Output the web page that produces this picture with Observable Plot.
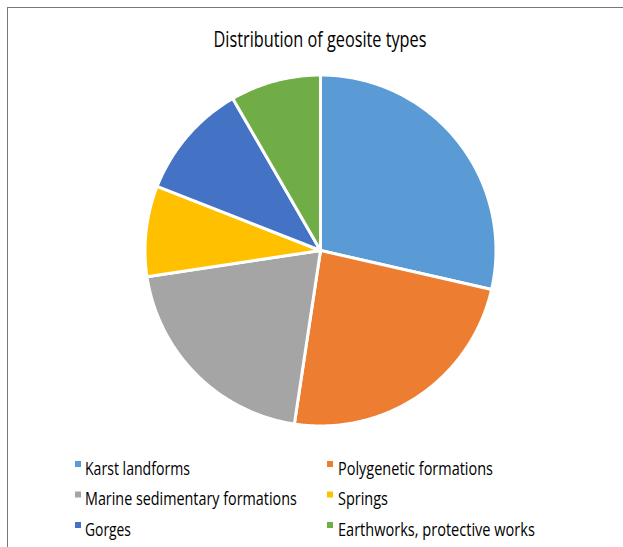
<!DOCTYPE html>
<html>
<head>
<meta charset="utf-8">
<script src="https://cdn.jsdelivr.net/npm/d3@7"></script>
<script src="https://cdn.jsdelivr.net/npm/@observablehq/plot@0.6"></script>
<style>
  html, body { margin: 0; padding: 0; background: #fff; }
  body { width: 623px; height: 547px; position: relative; overflow: hidden; }
  #frame { position: absolute; left: 7px; top: 7px; width: 800px; height: 800px;
           border: 1.5px solid #777; box-sizing: border-box; }
  #chart { position: absolute; left: 0; top: 0; }
  #overlay { position: absolute; left: 0; top: 0; }
  #overlay text { font-family: "Open Sans", "Noto Sans", sans-serif; fill: #000; }
</style>
</head>
<body>
<div id="frame"></div>
<div id="chart"></div>
<svg id="overlay" width="623" height="547"></svg>
<script>
const title = "Distribution of geosite types";
const types = ["Karst landforms", "Polygenetic formations", "Marine sedimentary formations", "Springs", "Gorges", "Earthworks, protective works"];
const counts = [24, 20, 17, 7, 9, 7];
const colors = ["#5B9BD5", "#ED7D31", "#A5A5A5", "#FFC000", "#4472C4", "#70AD47"];

const data = types.map((t, i) => ({type: t, value: counts[i]}));
const arcs = d3.pie().sort(null).value(d => d.value)(data);

// polygon outline of each slice (unit circle, angle clockwise from 12 o'clock)
const pts = [];
arcs.forEach(a => {
  const t = a.data.type;
  pts.push({type: t, x: 0, y: 0});
  const n = Math.max(4, Math.ceil((a.endAngle - a.startAngle) / 0.01));
  for (let k = 0; k <= n; k++) {
    const ang = a.startAngle + (a.endAngle - a.startAngle) * k / n;
    pts.push({type: t, x: Math.sin(ang), y: Math.cos(ang)});
  }
});

const chart = Plot.plot({
  width: 623,
  height: 547,
  marginLeft: 144.5,
  marginRight: 127.5,
  marginTop: 74.5,
  marginBottom: 121.5,
  x: {domain: [-1, 1], axis: null},
  y: {domain: [-1, 1], axis: null},
  color: {domain: types, range: colors},
  style: {background: "transparent"},
  marks: [
    Plot.line(pts, {x: "x", y: "y", z: "type", fill: "type", stroke: "white",
                    strokeWidth: 3, strokeLinejoin: "round", curve: "linear-closed"})
  ]
});
document.getElementById("chart").appendChild(chart);

// title and legend; text is horizontally condensed to the reference's widths
const color = chart.scale("color");
const svg = d3.select("#overlay");

function condensedText(str, x, y, size, target, anchor) {
  const t = svg.append("text")
    .attr("font-size", size)
    .attr("text-anchor", anchor)
    .text(str);
  const w = t.node().getComputedTextLength();
  const sx = w > 0 ? target / w : 1;
  t.attr("transform", `translate(${x},${y}) scale(${sx},1)`);
  return t;
}

condensedText(title, 320, 46.5, 22, 213, "middle");

const legLayout = {
  colText: [85, 338], colMark: [75, 327],
  rowBase: [474.5, 505, 535.5],
  widths: [105, 155, 212, 50, 46, 197]
};
types.forEach((t, i) => {
  const c = i % 2, r = Math.floor(i / 2);
  const base = legLayout.rowBase[r];
  svg.append("rect")
    .attr("x", legLayout.colMark[c]).attr("y", base - 13.5)
    .attr("width", 6).attr("height", 6)
    .attr("fill", color.apply(t));
  condensedText(t, legLayout.colText[c], base, 18, legLayout.widths[i], "start");
});
</script>
</body>
</html>
